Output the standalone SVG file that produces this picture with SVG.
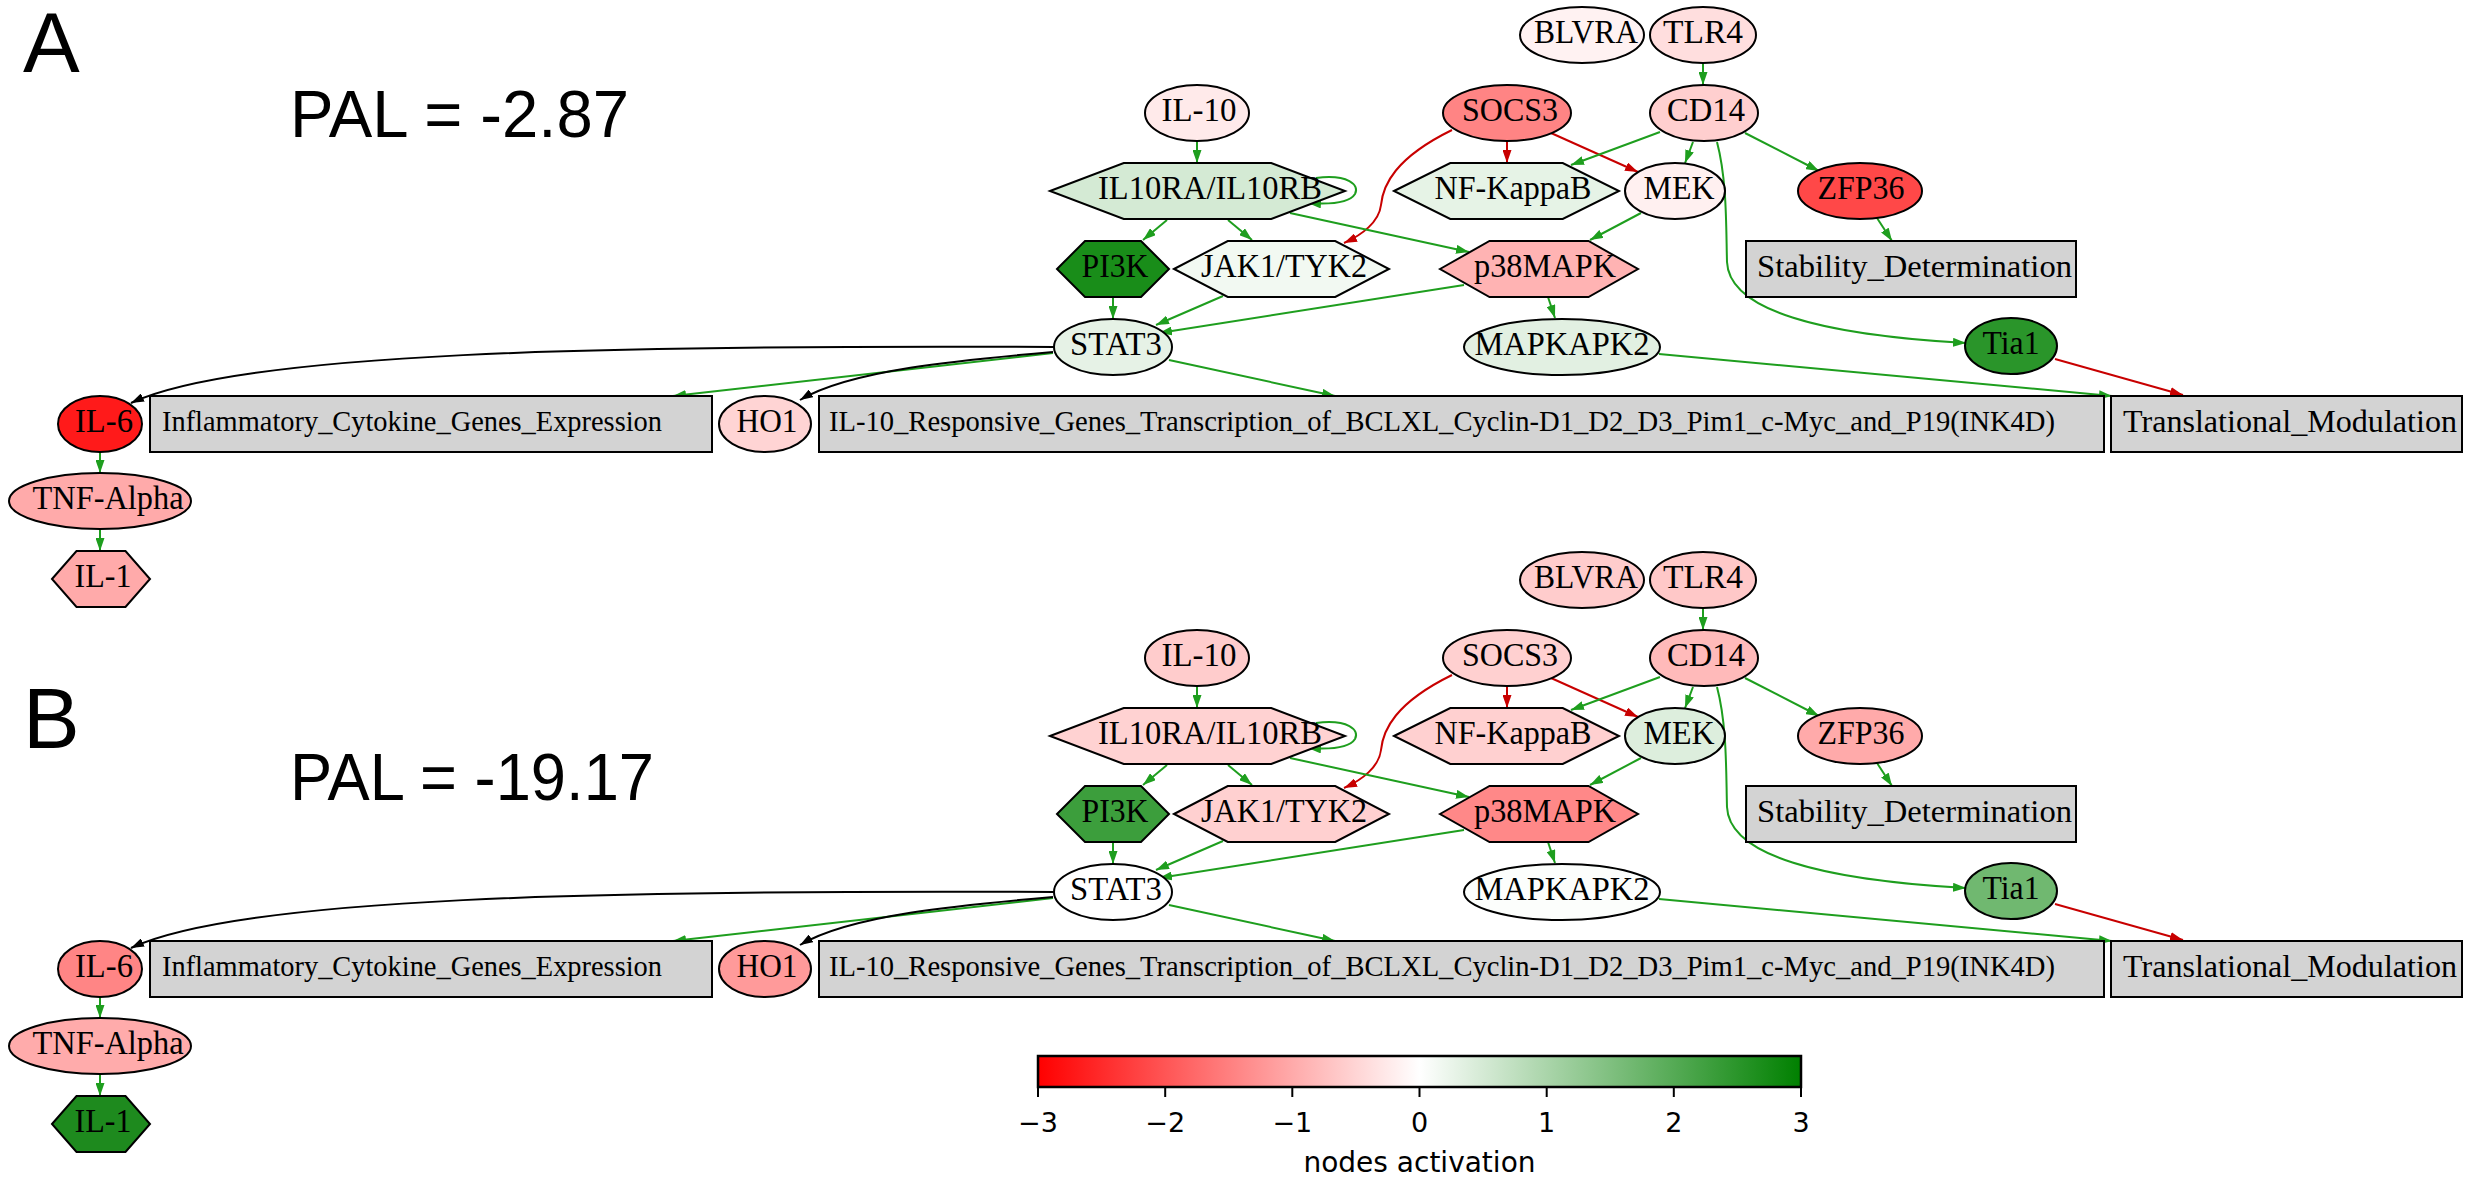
<svg xmlns="http://www.w3.org/2000/svg" width="2470" height="1181" viewBox="0 0 2470 1181">
<style>
.n{stroke:#000;stroke-width:2}
.box{fill:#d3d3d3;stroke:#000;stroke-width:2}
.t{font-family:"Liberation Serif","Times New Roman",serif;font-size:34px;text-anchor:middle;fill:#000}
.tl{font-family:"Liberation Serif","Times New Roman",serif;font-size:32px;text-anchor:start;fill:#000}
.tlong{font-family:"Liberation Serif","Times New Roman",serif;font-size:29.5px;text-anchor:start;fill:#000}
.e{fill:none;stroke-width:2}
.g{stroke:#1e9e1e;marker-end:url(#ag)}
.r{stroke:#c80000;marker-end:url(#ar)}
.k{stroke:#000;marker-end:url(#ak)}
.big{font-family:"Liberation Sans",Arial,sans-serif;fill:#000}
.cb{font-family:"DejaVu Sans",sans-serif;fill:#000;text-anchor:middle}
</style>
<defs>
<marker id="ag" viewBox="0 0 13 9" refX="13" refY="4.5" markerWidth="13" markerHeight="9" markerUnits="userSpaceOnUse" orient="auto"><path d="M0,0 L13,4.5 L0,9 z" fill="#1e9e1e"/></marker>
<marker id="ar" viewBox="0 0 13 9" refX="13" refY="4.5" markerWidth="13" markerHeight="9" markerUnits="userSpaceOnUse" orient="auto"><path d="M0,0 L13,4.5 L0,9 z" fill="#c80000"/></marker>
<marker id="ak" viewBox="0 0 13 9" refX="13" refY="4.5" markerWidth="13" markerHeight="9" markerUnits="userSpaceOnUse" orient="auto"><path d="M0,0 L13,4.5 L0,9 z" fill="#000"/></marker>
<linearGradient id="cmap" x1="0" y1="0" x2="1" y2="0">
<stop offset="0" stop-color="#ff0000"/><stop offset="0.5" stop-color="#ffffff"/><stop offset="1" stop-color="#008000"/>
</linearGradient>
</defs>
<rect width="2470" height="1181" fill="#fff"/>

<text class="big" x="23" y="72" font-size="85">A</text>
<text class="big" x="290" y="137" font-size="66" textLength="339" lengthAdjust="spacingAndGlyphs">PAL = -2.87</text>
<text class="big" x="23" y="748" font-size="85">B</text>
<text class="big" x="290" y="800" font-size="66" textLength="364" lengthAdjust="spacingAndGlyphs">PAL = -19.17</text>

<!-- Panel A -->
<g id="panelA">
<g id="a-edges">
<path class="e g" d="M1197,141 L1197,163"/>
<path class="e g" d="M1703,63 L1703,85"/>
<path class="e r" d="M1507,141 L1507,163"/>
<path class="e r" d="M1551,133 L1638,172"/>
<path class="e r" d="M1452,130 C1395,158 1383,185 1381,205 C1379,222 1362,235 1344,243"/>
<path class="e g" d="M1660,132 L1571,165"/>
<path class="e g" d="M1693,142 L1685,163"/>
<path class="e g" d="M1745,133 L1819,171"/>
<path class="e g" d="M1717,142 C1727,180 1726,225 1727,262 C1729,310 1820,335 1966,343"/>
<path class="e g" d="M1877,218 L1892,241"/>
<path class="e g" d="M1641,213 L1590,240"/>
<path class="e g" d="M1167,220 L1143,240"/>
<path class="e g" d="M1228,220 L1252,240"/>
<path class="e g" d="M1290,213 L1469,252"/>
<path class="e g" d="M1316,178 C1348,174 1360,185 1355,194 C1350,202 1336,205 1308,203"/>
<path class="e g" d="M1113,296 L1113,319"/>
<path class="e g" d="M1223,296 L1156,325"/>
<path class="e g" d="M1464,285 L1159,333"/>
<path class="e g" d="M1548,297 L1555,318"/>
<path class="e g" d="M1169,360 L1335,396"/>
<path class="e g" d="M1053,353 L673,396"/>
<path class="e k" d="M1054,347 C600,345 240,352 131,403"/>
<path class="e k" d="M1053,352 C960,360 850,370 800,400"/>
<path class="e g" d="M1659,354 L2112,396"/>
<path class="e r" d="M2055,359 L2183,395"/>
<path class="e g" d="M100,452 L100,473"/>
<path class="e g" d="M100,529 L100,551"/>
</g>
<g id="a-BLVRA"><ellipse class="n" cx="1582" cy="35" rx="62" ry="28" fill="#fff2f2"/><text class="t" x="1586" y="43" textLength="104" lengthAdjust="spacingAndGlyphs">BLVRA</text></g>
<g id="a-TLR4"><ellipse class="n" cx="1703" cy="35" rx="53" ry="28" fill="#ffdede"/><text class="t" x="1703" y="43" textLength="80" lengthAdjust="spacingAndGlyphs">TLR4</text></g>
<g id="a-IL-10"><ellipse class="n" cx="1197" cy="113" rx="52" ry="28" fill="#ffeaea"/><text class="t" x="1199" y="121" textLength="75" lengthAdjust="spacingAndGlyphs">IL-10</text></g>
<g id="a-SOCS3"><ellipse class="n" cx="1507" cy="113" rx="64" ry="28" fill="#ff8484"/><text class="t" x="1510" y="121" textLength="96" lengthAdjust="spacingAndGlyphs">SOCS3</text></g>
<g id="a-CD14"><ellipse class="n" cx="1704" cy="113" rx="54" ry="28" fill="#ffcfcf"/><text class="t" x="1706" y="121" textLength="78" lengthAdjust="spacingAndGlyphs">CD14</text></g>
<g id="a-IL10RA_IL10RB"><polygon class="n" points="1050,191 1123.75,163 1271.25,163 1345,191 1271.25,219 1123.75,219" fill="#d4ead4"/><text class="t" x="1210" y="199" textLength="224" lengthAdjust="spacingAndGlyphs">IL10RA/IL10RB</text></g>
<g id="a-NF-KappaB"><polygon class="n" points="1394,191 1450.25,163 1562.75,163 1619,191 1562.75,219 1450.25,219" fill="#e6f3e6"/><text class="t" x="1513" y="199" textLength="157" lengthAdjust="spacingAndGlyphs">NF-KappaB</text></g>
<g id="a-MEK"><ellipse class="n" cx="1675" cy="191" rx="50" ry="28" fill="#fff0f0"/><text class="t" x="1679" y="199" textLength="71" lengthAdjust="spacingAndGlyphs">MEK</text></g>
<g id="a-ZFP36"><ellipse class="n" cx="1860" cy="191" rx="62" ry="28" fill="#ff4848"/><text class="t" x="1861" y="199" textLength="87" lengthAdjust="spacingAndGlyphs">ZFP36</text></g>
<g id="a-PI3K"><polygon class="n" points="1057,269 1085,241 1141,241 1169,269 1141,297 1085,297" fill="#198d19"/><text class="t" x="1115" y="277" textLength="67" lengthAdjust="spacingAndGlyphs">PI3K</text></g>
<g id="a-JAK1_TYK2"><polygon class="n" points="1174,269 1227.75,241 1335.25,241 1389,269 1335.25,297 1227.75,297" fill="#f2f9f2"/><text class="t" x="1284" y="277" textLength="166" lengthAdjust="spacingAndGlyphs">JAK1/TYK2</text></g>
<g id="a-p38MAPK"><polygon class="n" points="1440,269 1489.5,241 1588.5,241 1638,269 1588.5,297 1489.5,297" fill="#ffb3b3"/><text class="t" x="1545" y="277" textLength="142" lengthAdjust="spacingAndGlyphs">p38MAPK</text></g>
<g id="a-Stability_Determination"><rect class="box" x="1746" y="241" width="330" height="56"/><text class="tl" x="1757" y="277" textLength="315" lengthAdjust="spacingAndGlyphs">Stability_Determination</text></g>
<g id="a-STAT3"><ellipse class="n" cx="1113" cy="347" rx="59" ry="28" fill="#e6f2e6"/><text class="t" x="1116" y="355" textLength="92" lengthAdjust="spacingAndGlyphs">STAT3</text></g>
<g id="a-MAPKAPK2"><ellipse class="n" cx="1562" cy="347" rx="98" ry="28" fill="#e2f0e2"/><text class="t" x="1562" y="355" textLength="175" lengthAdjust="spacingAndGlyphs">MAPKAPK2</text></g>
<g id="a-Tia1"><ellipse class="n" cx="2011" cy="346" rx="46" ry="28" fill="#2a952a"/><text class="t" x="2011" y="354" textLength="57" lengthAdjust="spacingAndGlyphs">Tia1</text></g>
<g id="a-IL-6"><ellipse class="n" cx="100" cy="424" rx="42" ry="28" fill="#ff1a1a"/><text class="t" x="104" y="432" textLength="58" lengthAdjust="spacingAndGlyphs">IL-6</text></g>
<g id="a-Inflammatory_Cytokine_Genes_Expression"><rect class="box" x="150" y="396" width="562" height="56"/><text class="tlong" x="162" y="431" textLength="500" lengthAdjust="spacingAndGlyphs">Inflammatory_Cytokine_Genes_Expression</text></g>
<g id="a-HO1"><ellipse class="n" cx="765" cy="424" rx="46" ry="28" fill="#ffd4d4"/><text class="t" x="767" y="432" textLength="61" lengthAdjust="spacingAndGlyphs">HO1</text></g>
<g id="a-IL-10_Responsive_Genes"><rect class="box" x="819" y="396" width="1285" height="56"/><text class="tlong" x="829" y="431" textLength="1226" lengthAdjust="spacingAndGlyphs">IL-10_Responsive_Genes_Transcription_of_BCLXL_Cyclin-D1_D2_D3_Pim1_c-Myc_and_P19(INK4D)</text></g>
<g id="a-Translational_Modulation"><rect class="box" x="2111" y="396" width="351" height="56"/><text class="tl" x="2123" y="432" textLength="334" lengthAdjust="spacingAndGlyphs">Translational_Modulation</text></g>
<g id="a-TNF-Alpha"><ellipse class="n" cx="100" cy="501" rx="91" ry="28" fill="#ffaaaa"/><text class="t" x="108" y="509" textLength="151" lengthAdjust="spacingAndGlyphs">TNF-Alpha</text></g>
<g id="a-IL-1"><polygon class="n" points="52,579 76.5,551 125.5,551 150,579 125.5,607 76.5,607" fill="#ffaaaa"/><text class="t" x="103" y="587" textLength="57" lengthAdjust="spacingAndGlyphs">IL-1</text></g>
</g>

<!-- Panel B -->
<g id="panelB" transform="translate(0,545)">
<g id="b-edges">
<path class="e g" d="M1197,141 L1197,163"/>
<path class="e g" d="M1703,63 L1703,85"/>
<path class="e r" d="M1507,141 L1507,163"/>
<path class="e r" d="M1551,133 L1638,172"/>
<path class="e r" d="M1452,130 C1395,158 1383,185 1381,205 C1379,222 1362,235 1344,243"/>
<path class="e g" d="M1660,132 L1571,165"/>
<path class="e g" d="M1693,142 L1685,163"/>
<path class="e g" d="M1745,133 L1819,171"/>
<path class="e g" d="M1717,142 C1727,180 1726,225 1727,262 C1729,310 1820,335 1966,343"/>
<path class="e g" d="M1877,218 L1892,241"/>
<path class="e g" d="M1641,213 L1590,240"/>
<path class="e g" d="M1167,220 L1143,240"/>
<path class="e g" d="M1228,220 L1252,240"/>
<path class="e g" d="M1290,213 L1469,252"/>
<path class="e g" d="M1316,178 C1348,174 1360,185 1355,194 C1350,202 1336,205 1308,203"/>
<path class="e g" d="M1113,296 L1113,319"/>
<path class="e g" d="M1223,296 L1156,325"/>
<path class="e g" d="M1464,285 L1159,333"/>
<path class="e g" d="M1548,297 L1555,318"/>
<path class="e g" d="M1169,360 L1335,396"/>
<path class="e g" d="M1053,353 L673,396"/>
<path class="e k" d="M1054,347 C600,345 240,352 131,403"/>
<path class="e k" d="M1053,352 C960,360 850,370 800,400"/>
<path class="e g" d="M1659,354 L2112,396"/>
<path class="e r" d="M2055,359 L2183,395"/>
<path class="e g" d="M100,452 L100,473"/>
<path class="e g" d="M100,529 L100,551"/>
</g>
<g id="b-BLVRA"><ellipse class="n" cx="1582" cy="35" rx="62" ry="28" fill="#ffcccc"/><text class="t" x="1586" y="43" textLength="104" lengthAdjust="spacingAndGlyphs">BLVRA</text></g>
<g id="b-TLR4"><ellipse class="n" cx="1703" cy="35" rx="53" ry="28" fill="#ffc8c8"/><text class="t" x="1703" y="43" textLength="80" lengthAdjust="spacingAndGlyphs">TLR4</text></g>
<g id="b-IL-10"><ellipse class="n" cx="1197" cy="113" rx="52" ry="28" fill="#ffcccc"/><text class="t" x="1199" y="121" textLength="75" lengthAdjust="spacingAndGlyphs">IL-10</text></g>
<g id="b-SOCS3"><ellipse class="n" cx="1507" cy="113" rx="64" ry="28" fill="#ffd0d0"/><text class="t" x="1510" y="121" textLength="96" lengthAdjust="spacingAndGlyphs">SOCS3</text></g>
<g id="b-CD14"><ellipse class="n" cx="1704" cy="113" rx="54" ry="28" fill="#ffbaba"/><text class="t" x="1706" y="121" textLength="78" lengthAdjust="spacingAndGlyphs">CD14</text></g>
<g id="b-IL10RA_IL10RB"><polygon class="n" points="1050,191 1123.75,163 1271.25,163 1345,191 1271.25,219 1123.75,219" fill="#ffd2d2"/><text class="t" x="1210" y="199" textLength="224" lengthAdjust="spacingAndGlyphs">IL10RA/IL10RB</text></g>
<g id="b-NF-KappaB"><polygon class="n" points="1394,191 1450.25,163 1562.75,163 1619,191 1562.75,219 1450.25,219" fill="#ffd0d0"/><text class="t" x="1513" y="199" textLength="157" lengthAdjust="spacingAndGlyphs">NF-KappaB</text></g>
<g id="b-MEK"><ellipse class="n" cx="1675" cy="191" rx="50" ry="28" fill="#ddeedd"/><text class="t" x="1679" y="199" textLength="71" lengthAdjust="spacingAndGlyphs">MEK</text></g>
<g id="b-ZFP36"><ellipse class="n" cx="1860" cy="191" rx="62" ry="28" fill="#ffaaaa"/><text class="t" x="1861" y="199" textLength="87" lengthAdjust="spacingAndGlyphs">ZFP36</text></g>
<g id="b-PI3K"><polygon class="n" points="1057,269 1085,241 1141,241 1169,269 1141,297 1085,297" fill="#3c9e3c"/><text class="t" x="1115" y="277" textLength="67" lengthAdjust="spacingAndGlyphs">PI3K</text></g>
<g id="b-JAK1_TYK2"><polygon class="n" points="1174,269 1227.75,241 1335.25,241 1389,269 1335.25,297 1227.75,297" fill="#ffd0d0"/><text class="t" x="1284" y="277" textLength="166" lengthAdjust="spacingAndGlyphs">JAK1/TYK2</text></g>
<g id="b-p38MAPK"><polygon class="n" points="1440,269 1489.5,241 1588.5,241 1638,269 1588.5,297 1489.5,297" fill="#ff8888"/><text class="t" x="1545" y="277" textLength="142" lengthAdjust="spacingAndGlyphs">p38MAPK</text></g>
<g id="b-Stability_Determination"><rect class="box" x="1746" y="241" width="330" height="56"/><text class="tl" x="1757" y="277" textLength="315" lengthAdjust="spacingAndGlyphs">Stability_Determination</text></g>
<g id="b-STAT3"><ellipse class="n" cx="1113" cy="347" rx="59" ry="28" fill="#ffffff"/><text class="t" x="1116" y="355" textLength="92" lengthAdjust="spacingAndGlyphs">STAT3</text></g>
<g id="b-MAPKAPK2"><ellipse class="n" cx="1562" cy="347" rx="98" ry="28" fill="#fcfefc"/><text class="t" x="1562" y="355" textLength="175" lengthAdjust="spacingAndGlyphs">MAPKAPK2</text></g>
<g id="b-Tia1"><ellipse class="n" cx="2011" cy="346" rx="46" ry="28" fill="#70b870"/><text class="t" x="2011" y="354" textLength="57" lengthAdjust="spacingAndGlyphs">Tia1</text></g>
<g id="b-IL-6"><ellipse class="n" cx="100" cy="424" rx="42" ry="28" fill="#ff8585"/><text class="t" x="104" y="432" textLength="58" lengthAdjust="spacingAndGlyphs">IL-6</text></g>
<g id="b-Inflammatory_Cytokine_Genes_Expression"><rect class="box" x="150" y="396" width="562" height="56"/><text class="tlong" x="162" y="431" textLength="500" lengthAdjust="spacingAndGlyphs">Inflammatory_Cytokine_Genes_Expression</text></g>
<g id="b-HO1"><ellipse class="n" cx="765" cy="424" rx="46" ry="28" fill="#ff9a9a"/><text class="t" x="767" y="432" textLength="61" lengthAdjust="spacingAndGlyphs">HO1</text></g>
<g id="b-IL-10_Responsive_Genes"><rect class="box" x="819" y="396" width="1285" height="56"/><text class="tlong" x="829" y="431" textLength="1226" lengthAdjust="spacingAndGlyphs">IL-10_Responsive_Genes_Transcription_of_BCLXL_Cyclin-D1_D2_D3_Pim1_c-Myc_and_P19(INK4D)</text></g>
<g id="b-Translational_Modulation"><rect class="box" x="2111" y="396" width="351" height="56"/><text class="tl" x="2123" y="432" textLength="334" lengthAdjust="spacingAndGlyphs">Translational_Modulation</text></g>
<g id="b-TNF-Alpha"><ellipse class="n" cx="100" cy="501" rx="91" ry="28" fill="#ffabab"/><text class="t" x="108" y="509" textLength="151" lengthAdjust="spacingAndGlyphs">TNF-Alpha</text></g>
<g id="b-IL-1"><polygon class="n" points="52,579 76.5,551 125.5,551 150,579 125.5,607 76.5,607" fill="#1e8a1e"/><text class="t" x="103" y="587" textLength="57" lengthAdjust="spacingAndGlyphs">IL-1</text></g>
</g>

<!-- Colorbar -->
<g id="colorbar">
<rect x="1038" y="1056" width="763" height="31" fill="url(#cmap)" stroke="#000" stroke-width="2.5"/>
<g stroke="#000" stroke-width="2">
<line x1="1038" y1="1087" x2="1038" y2="1097"/>
<line x1="1165.2" y1="1087" x2="1165.2" y2="1097"/>
<line x1="1292.3" y1="1087" x2="1292.3" y2="1097"/>
<line x1="1419.5" y1="1087" x2="1419.5" y2="1097"/>
<line x1="1546.7" y1="1087" x2="1546.7" y2="1097"/>
<line x1="1673.8" y1="1087" x2="1673.8" y2="1097"/>
<line x1="1801" y1="1087" x2="1801" y2="1097"/>
</g>
<g class="cb" font-size="27">
<text x="1038" y="1132">−3</text>
<text x="1165.2" y="1132">−2</text>
<text x="1292.3" y="1132">−1</text>
<text x="1419.5" y="1132">0</text>
<text x="1546.7" y="1132">1</text>
<text x="1673.8" y="1132">2</text>
<text x="1801" y="1132">3</text>
</g>
<text class="cb" x="1419.5" y="1172" font-size="28">nodes activation</text>
</g>
</svg>
